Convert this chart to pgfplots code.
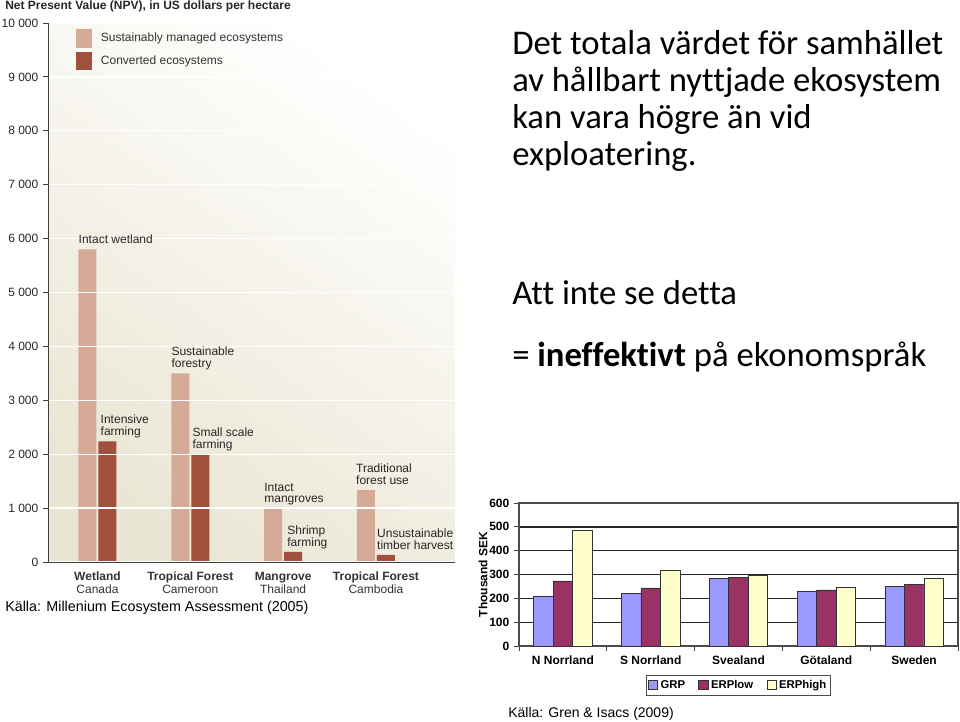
\documentclass[border=0pt]{standalone}
\usepackage{pgfplots}
\pgfplotsset{compat=1.18}
\usepackage{fontspec}
\setmainfont{Liberation Sans}
\newfontfamily\calib{Carlito}[Ligatures=NoCommon]
\definecolor{lbar}{HTML}{D5AB98}
\definecolor{dbar}{HTML}{A1503E}
\definecolor{bgbeige}{HTML}{EAE6D4}
\definecolor{grp}{HTML}{9999FF}
\definecolor{erplow}{HTML}{993366}
\definecolor{erphigh}{HTML}{FFFFCC}
\newcommand{\bl}[1]{\begin{tabular}[b]{@{}l@{}}#1\end{tabular}}
\begin{document}
\begin{tikzpicture}
\path[use as bounding box] (0pt,0pt) rectangle (720pt,540.75pt);

% ---------- left chart ----------
\begin{axis}[
  at={(36pt,119.25pt)}, anchor=south west,
  scale only axis, width=305.25pt, height=404.25pt,
  ymin=0, ymax=10000, xmin=-0.533, xmax=3.852,
  ybar=1.5pt, bar width=13.5pt,
  axis x line*=bottom, axis y line*=left,
  axis line style={black!75, line width=0.7pt},
  ytick={0,1000,...,10000}, scaled y ticks=false,
  xtick=\empty,
  extra x ticks={0,1,2,3},
  extra x tick labels={{\textbf{Wetland}\strut\\Canada\strut},{\textbf{Tropical Forest}\strut\\Cameroon\strut},{\textbf{Mangrove}\strut\\Thailand\strut},{\textbf{Tropical Forest}\strut\\Cambodia\strut}},
  extra x tick style={tick style={draw=none}},
  xticklabel style={align=center, font=\fontsize{9}{9.75}\selectfont, text=black!80},
  tick align=outside, ytick pos=left, major tick length=3.75pt,
  tick style={black!75, line width=0.6pt},
  yticklabel style={font=\fontsize{9}{10}\selectfont, text=black!85},
  /pgf/number format/1000 sep={\ },
  /pgf/number format/assume math mode=true,
  ymajorgrids, grid style={white, line width=1pt},
  axis on top,
  axis background/.style={shade, top color=white, bottom color=bgbeige, shading angle=-35},
  legend style={at={(0.059,0.995)}, anchor=north west, draw=none, fill=none,
    font=\fontsize{9}{10}\selectfont, text=black!80, row sep=3pt, cells={anchor=west}},
  legend image code/.code={\fill[#1] (0pt,-7.1pt) rectangle (12pt,7.1pt); \path (0pt,0pt) -- (16.5pt,0pt);},
]
\addplot[fill=lbar, draw=none] coordinates {(0,5800) (1,3500) (2,1000) (3,1340)};
\addplot[fill=dbar, draw=none] coordinates {(0,2240) (1,2000) (2,190) (3,130)};
\legend{Sustainably managed ecosystems, Converted ecosystems}
\coordinate (a1) at (axis cs:0,5800);
\coordinate (a2) at (axis cs:0,2240);
\coordinate (a3) at (axis cs:1,3500);
\coordinate (a4) at (axis cs:1,2000);
\coordinate (a5) at (axis cs:2,1000);
\coordinate (a6) at (axis cs:2,190);
\coordinate (a7) at (axis cs:3,1340);
\coordinate (a8) at (axis cs:3,130);
\end{axis}
\begin{scope}[every node/.style={anchor=base west, inner sep=0pt, font=\fontsize{9}{8.25}\selectfont, text=black!85}]
\node[xshift=-14.25pt, yshift=4.1pt] at (a1) {\bl{Intact wetland}};
\node[xshift=2.25pt, yshift=4.1pt] at (a2) {\bl{Intensive\\farming}};
\node[xshift=-14.25pt, yshift=4.1pt] at (a3) {\bl{Sustainable\\forestry}};
\node[xshift=1.5pt, yshift=4.1pt] at (a4) {\bl{Small scale\\farming}};
\node[xshift=-14.25pt, yshift=4.1pt] at (a5) {\bl{Intact\\mangroves}};
\node[xshift=3pt, yshift=4.1pt] at (a6) {\bl{Shrimp\\farming}};
\node[xshift=-15pt, yshift=4.1pt] at (a7) {\bl{Traditional\\forest use}};
\node[xshift=0.75pt, yshift=4.1pt] at (a8) {\bl{Unsustainable\\timber harvest}};
\end{scope}

% ---------- right chart ----------
\begin{axis}[
  at={(389.25pt,56.25pt)}, anchor=south west,
  scale only axis, width=329.25pt, height=107.25pt,
  xmin=-0.5, xmax=4.5, ymin=0, ymax=600,
  ybar=0pt, bar width=14.6pt,
  ytick={0,100,...,600},
  xtick={-0.5,0.5,...,4.5}, xticklabels={},
  extra x ticks={0,1,2,3,4},
  extra x tick labels={N Norrland, S Norrland, Svealand, Götaland, Sweden},
  extra x tick style={tick style={draw=none}},
  tick align=outside, ytick pos=left, xtick pos=bottom, major tick length=3.75pt,
  tick style={black!75, line width=0.7pt},
  ymajorgrids, grid style={black!85, line width=1pt},
  axis line style={black!70, line width=0.8pt},
  ticklabel style={font=\bfseries\fontsize{9}{10}\selectfont},
  /pgf/number format/assume math mode=true,
  ylabel={Thousand SEK},
  ylabel style={font=\bfseries\fontsize{9}{10}\selectfont, at={(axis description cs:-0.082,0.5)}, anchor=center},
  legend columns=3,
  legend style={at={(0.5,-0.203)}, anchor=north, draw=black!70, line width=0.8pt,
    font=\bfseries\fontsize{8.5}{10}\selectfont, inner sep=1.5pt,
    /tikz/every even column/.append style={column sep=8pt}},
  legend image code/.code={\draw[#1, line width=0.6pt] (0pt,-3.4pt) rectangle (6.8pt,3.4pt);},
]
\addplot[fill=grp, draw=black!80, line width=0.5pt] coordinates {(0,210) (1,221) (2,284) (3,230) (4,251)};
\addplot[fill=erplow, draw=black!80, line width=0.5pt] coordinates {(0,273) (1,244) (2,288) (3,235) (4,258)};
\addplot[fill=erphigh, draw=black!80, line width=0.5pt] coordinates {(0,487) (1,318) (2,297) (3,245) (4,284)};
\legend{GRP, ERPlow, ERPhigh}
\end{axis}

% ---------- texts ----------
\begin{scope}[x=0.75pt,y=0.75pt]
\node[anchor=base west, inner sep=0pt, font=\bfseries\fontsize{9}{10}\selectfont, text=black!85] at (5,711) {Net Present Value (NPV), in US dollars per hectare};
\node[anchor=base west, inner sep=0pt, font=\fontsize{10.75}{12}\selectfont] at (5,109) {Källa: Millenium Ecosystem Assessment (2005)};
\node[anchor=base west, inner sep=0pt, font=\fontsize{10.5}{12}\selectfont] at (508,4) {Källa: Gren \& Isacs (2009)};
\begin{scope}[every node/.style={anchor=base west, inner sep=0pt, font=\calib\fontsize{26}{30}\selectfont}]
\node at (512,666) {Det totala värdet för samhället};
\node at (512,629) {av hållbart nyttjade ekosystem};
\node at (512,592) {kan vara högre än vid};
\node at (512,555) {exploatering.};
\node at (512,416) {Att inte se detta};
\node at (512,354) {= \textbf{ineffektivt} på ekonomspråk};
\end{scope}
\end{scope}
\end{tikzpicture}
\end{document}
